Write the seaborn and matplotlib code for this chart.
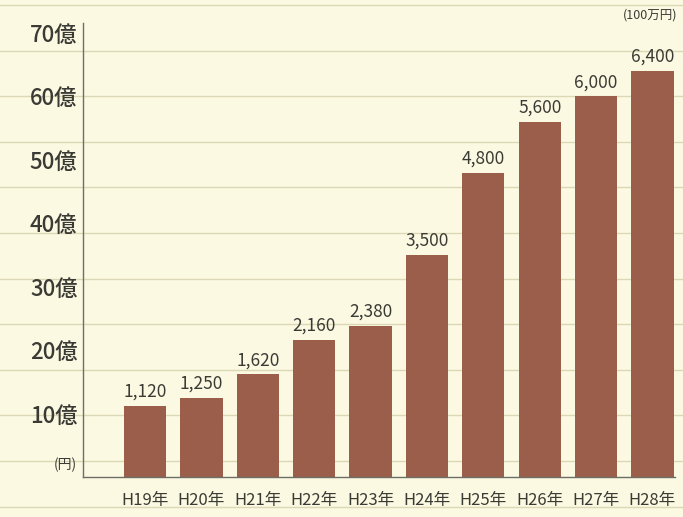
import pandas as pd
import seaborn as sns
import matplotlib.pyplot as plt
from matplotlib.lines import Line2D

years = ['H19年', 'H20年', 'H21年', 'H22年', 'H23年', 'H24年', 'H25年', 'H26年', 'H27年', 'H28年']
amounts = [1120, 1250, 1620, 2160, 2380, 3500, 4800, 5600, 6000, 6400]  # 100万円
y_ticks = [1000, 2000, 3000, 4000, 5000, 6000, 7000]
y_labels = ['10億', '20億', '30億', '40億', '50億', '60億', '70億']

df = pd.DataFrame({'year': years, 'amount': amounts})

bg = '#fbf9e2'
bar_color = '#9a5e4a'
text_color = '#3b3b35'

sns.set_style('white')
plt.rcParams['font.family'] = ['Liberation Sans Narrow', 'Noto Sans CJK JP', 'DejaVu Sans']

fig = plt.figure(figsize=(6.83, 5.17), dpi=100, facecolor=bg)

# ruled background lines across the whole sheet
for i in range(12):
    y = 1 - (5 + 45.6 * i) / 517
    fig.add_artist(Line2D([0, 1], [y, y], transform=fig.transFigure,
                          color='#dcd8b6', lw=1.0, zorder=0))

ax = fig.add_axes([83 / 683, 40 / 517, (675 - 83) / 683, (477 - 23) / 517])
ax.set_facecolor('none')

sns.barplot(data=df, x='year', y='amount', color=bar_color, saturation=1,
            width=0.75, linewidth=0, ax=ax, zorder=2)

for i, v in enumerate(amounts):
    ax.text(i, v + 80, f'{v:,}', ha='center', va='bottom', fontsize=12.5,
            color=text_color)

ax.set_xlim(-1.1, 9.4)
ax.set_ylim(0, 7158)
ax.set_yticks(y_ticks)
ax.set_yticklabels(y_labels, fontsize=16, fontweight='medium', color=text_color)
ax.tick_params(axis='y', length=0, pad=4)
ax.tick_params(axis='x', length=0, pad=11, labelsize=12, labelcolor=text_color)
ax.set_xlabel('')
ax.set_ylabel('')

for s in ['top', 'right']:
    ax.spines[s].set_visible(False)
ax.spines['left'].set_color('#6e6e66')
ax.spines['bottom'].set_color('#6e6e66')
ax.spines['left'].set_linewidth(1.0)
ax.spines['bottom'].set_linewidth(1.0)

ax.text(-0.01, 0.01, '(円)', transform=ax.transAxes, ha='right', va='bottom',
        fontsize=10, color=text_color)
ax.text(650 / 683, 1 - 15 / 517, '(100万円)', transform=fig.transFigure,
        ha='center', va='center', fontsize=9, color=text_color)

fig.savefig('out.png', dpi=100, facecolor=bg)
